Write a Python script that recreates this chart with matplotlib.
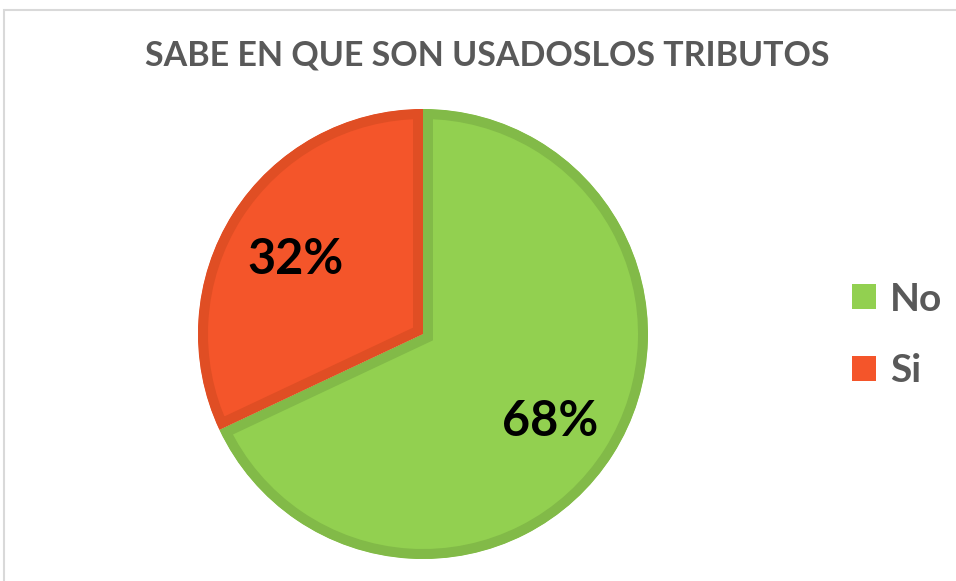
import matplotlib
matplotlib.use("Agg")
import matplotlib.pyplot as plt
from matplotlib.patches import Patch, Rectangle

# datos
categorias = ["No", "Si"]
porcentajes = [68, 32]
colores = ["#92D050", "#F4552A"]
bordes = ["#82BA48", "#E04E24"]
titulo = "SABE EN QUE SON USADOSLOS TRIBUTOS"

plt.rcParams["font.family"] = ["Lato", "DejaVu Sans"]

W, H = 956, 581
fig = plt.figure(figsize=(W / 100, H / 100), dpi=100)

# marco gris del grafico
fig.patches.append(Rectangle((4 / W, -0.1), 1.2, (H - 10) / H + 0.1,
                             transform=fig.transFigure, fill=False,
                             edgecolor="#D9D9D9", linewidth=1.5))

# pastel: centro (423, 334) px, radio 225 px
cx, cy, r = 423, H - 334, 225
ax = fig.add_axes([(cx - r) / W, (cy - r) / H, 2 * r / W, 2 * r / H])
wedges, textos, autotextos = ax.pie(
    porcentajes, colors=colores, startangle=90, counterclock=False,
    autopct="%d%%", pctdistance=0.67, radius=1,
    textprops=dict(fontsize=35, fontweight="bold", color="black"))
for w, b in zip(wedges, bordes):
    w.set_edgecolor(b)
    w.set_linewidth(14.4)
    w.set_clip_path(w)
    w.set_clip_on(True)
for t in autotextos:
    x, y = t.get_position()
    t.set_position((x, y - 0.03))
ax.set_xlim(-1, 1)
ax.set_ylim(-1, 1)
ax.set_aspect("equal")
ax.axis("off")

fig.text(487 / W, 1 - 55 / H, titulo, ha="center", va="center",
         fontsize=24.5, fontweight="bold", color="#595959")

handles = [Patch(facecolor=c, edgecolor="none") for c in colores]
fig.legend(handles, categorias, loc="center left",
           bbox_to_anchor=(852 / W, 1 - 335 / H), frameon=False,
           prop=dict(weight="bold", size=28), borderaxespad=0, borderpad=0,
           labelcolor="#595959", handlelength=0.62, handleheight=0.62,
           handletextpad=0.35, labelspacing=0.95)

fig.savefig("out.png", dpi=100)
